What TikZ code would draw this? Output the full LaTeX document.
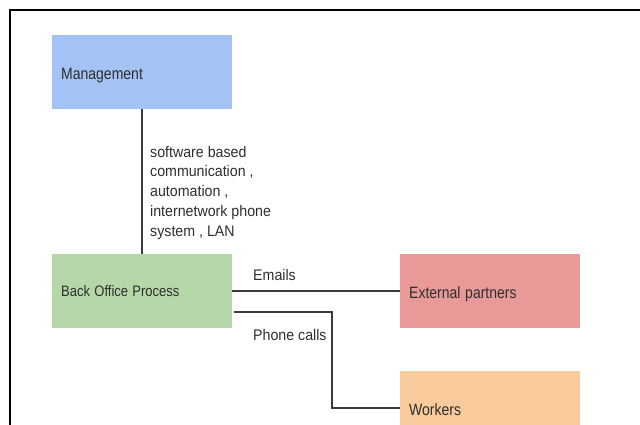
\documentclass[tikz,border=0pt]{standalone}
\usepackage{fontspec}
\usepackage{graphicx}
\setmainfont{Liberation Sans}
\definecolor{mgmtblue}{HTML}{A4C2F4}
\definecolor{bopgreen}{HTML}{B6D7A8}
\definecolor{extred}{HTML}{EA9999}
\definecolor{workorange}{HTML}{F9CB9C}
\definecolor{txt}{HTML}{2E2E2E}
\definecolor{wire}{HTML}{3A3A3A}
\newcommand{\bstretch}[1]{\scalebox{1}[1.17]{#1}}
\newcommand{\lstretch}[1]{\scalebox{1}[1.08]{#1}}
\tikzset{
  box/.style={rectangle, draw=none, minimum width=180pt, minimum height=74pt,
    text width=162pt, inner xsep=9pt, inner ysep=0pt, align=left,
    text height=14pt, text depth=0pt,
    anchor=north west, text=txt, font=\fontsize{14}{16}\selectfont},
  wirestyle/.style={draw=wire, line width=1.9pt},
  lbl/.style={inner sep=0pt, text=txt, font=\fontsize{14.2}{18.4}\selectfont}
}
\begin{document}
\begin{tikzpicture}[x=1pt,y=-1pt]
\useasboundingbox (0,0) rectangle (640,425);
\begin{scope}
\clip (0,0) rectangle (640,425);
% frame
\coordinate (ftl) at (10,10);
\coordinate (ftr) at (640,10);
\coordinate (fbl) at (10,425);
\draw[black, line width=1.4pt] (ftr) -- (ftl) -- (fbl);
% boxes
\node[box, fill=mgmtblue] (mgmt) at (52,35) {\bstretch{Management}};
\node[box, fill=bopgreen, text height=11.5pt, font=\fontsize{13}{16}\selectfont] (bop) at (52,254) {\bstretch{Back Office Process}};
\node[box, fill=extred] (ext) at (400,254) {\bstretch{External partners}};
\node[box, fill=workorange] (work) at (400,371) {\bstretch{Workers}};
% connectors
\draw[wirestyle] (mgmt.south) -- (bop.north);
\draw[wirestyle] (bop.east) -- (ext.west);
\draw[wirestyle] ([xshift=2pt,yshift=-21pt]bop.east) -- ++(98,0) |- (work.west);
% labels
\node[lbl, anchor=north west] (l1) at (150,143) {\lstretch{\begin{tabular}{@{}l@{}}software based\\communication ,\\automation ,\\internetwork phone\\system , LAN\end{tabular}}};
\node[lbl, anchor=base west] (l2) at (253,280) {\lstretch{Emails}};
\node[lbl, anchor=base west] (l3) at (253,340) {\lstretch{Phone calls}};
\end{scope}
\end{tikzpicture}
\end{document}
